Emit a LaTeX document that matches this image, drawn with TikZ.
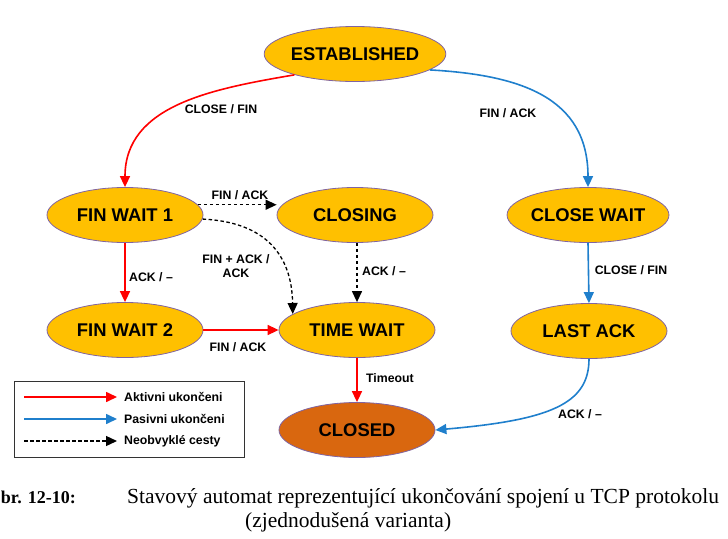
\documentclass[tikz,border=0pt]{standalone}
\usepackage{fontspec}
\setmainfont{Liberation Serif}
\setsansfont{Liberation Sans}
\usetikzlibrary{shapes.geometric,arrows.meta}
\definecolor{stfill}{HTML}{FFC000}
\definecolor{stclosed}{HTML}{D9670F}
\definecolor{stborder}{HTML}{8064A2}
\definecolor{actred}{HTML}{FF0000}
\definecolor{pasblue}{HTML}{1F7FCC}
\begin{document}
\begin{tikzpicture}[x=1pt,y=-1pt,
  state/.style={ellipse, draw=stborder, line width=0.8pt, fill=stfill,
    minimum width=156pt, minimum height=55pt, inner sep=0pt,
    font=\sffamily\bfseries\fontsize{18.4}{20}\selectfont},
  lbl/.style={font=\sffamily\bfseries\fontsize{12.3}{14}\selectfont, inner sep=0pt},
  tip/.style={-{Triangle[length=11pt,width=10pt]}},
  act/.style={draw=actred, line width=1.6pt, tip},
  pas/.style={draw=pasblue, line width=1.6pt, tip},
  odd/.style={draw=black, line width=1.3pt, dash pattern=on 3.5pt off 2.5pt, tip},
  captext/.style={inner sep=0pt, font=\fontsize{21.5}{24}\selectfont},
]
\useasboundingbox (0,0) rectangle (728,538);

% states
\node[state] (est) at (355,54) {ESTABLISHED};
\node[state] (fw1) at (125,215) {FIN WAIT 1};
\node[state] (cls) at (355,215) {CLOSING};
\node[state] (cw)  at (588,215) {CLOSE WAIT};
\node[state] (fw2) at (125,330) {FIN WAIT 2};
\node[state] (tw)  at (357,330) {TIME WAIT};
\node[state] (la)  at (589,331) {LAST ACK};
\node[state, fill=stclosed] (cld) at (357,430) {CLOSED};

% active close
\draw[act] (est.199) .. controls +(-82,14) and +(0,-82) .. (fw1.north);
\draw[act] (fw1.south) -- (fw2.north);
\draw[act] (fw2.east) -- (tw.west);
\draw[act] (tw.south) -- (cld.north);

% passive close
\draw[pas] (est.-12) .. controls +(90,5) and +(0,-90) .. (cw.north);
\draw[pas] (cw.south) -- (la.south |- la.north);
\draw[pas] (la.south) .. controls +(0,45) and +(115,-10) .. (cld.east);

% unusual paths
\draw[odd] (fw1.8) -- (cls.west |- fw1.8);
\draw[odd] (fw1.-3) .. controls +(63,3) and +(-1,-59) .. (tw.166);
\draw[odd] (cls.south -| tw.north) -- (tw.north);

% labels
\node[lbl] (l1) at (221,109) {CLOSE / FIN};
\node[lbl] (l2) at (508,113) {FIN / ACK};
\node[lbl] (l3) at (151,277) {ACK / --};
\node[lbl] (l4) at (631,270) {CLOSE / FIN};
\node[lbl] (l5) at (240,195) {FIN / ACK};
\node[lbl, align=center] (l6) at (236,266) {FIN + ACK /\\ACK};
\node[lbl] (l7) at (384,271) {ACK / --};
\node[lbl] (l8) at (238,347) {FIN / ACK};
\node[lbl] (l9) at (390,378) {Timeout};
\node[lbl] (l10) at (580,414) {ACK / --};

% legend
\node[draw=black!80, line width=0.9pt, minimum width=230pt, minimum height=76pt, inner sep=0pt] (leg) at (129,419) {};
\coordinate (ra) at (24,397); \coordinate (rb) at (117,397);
\coordinate (ba) at (24,419); \coordinate (bb) at (117,419);
\coordinate (ka) at (24,441); \coordinate (kb) at (117,441);
\draw[act] (ra) -- (rb);
\draw[pas] (ba) -- (bb);
\draw[odd] (ka) -- (kb);
\node[lbl, anchor=west] (t1) at (124,397) {Aktivni ukončeni};
\node[lbl, anchor=west] (t2) at (124,419) {Pasivni ukončeni};
\node[lbl, anchor=west] (t3) at (124,441) {Neobvyklé cesty};

% caption
\node[captext, anchor=base east, font=\bfseries\fontsize{18}{22}\selectfont] (c0) at (76,503) {Obr. 12-10:};
\node[captext, anchor=base west] (c1) at (127,503) {Stavový automat reprezentující ukončování spojení u TCP protokolu};
\node[captext, anchor=base west] (c2) at (245,527) {(zjednodušená varianta)};
\end{tikzpicture}
\end{document}
